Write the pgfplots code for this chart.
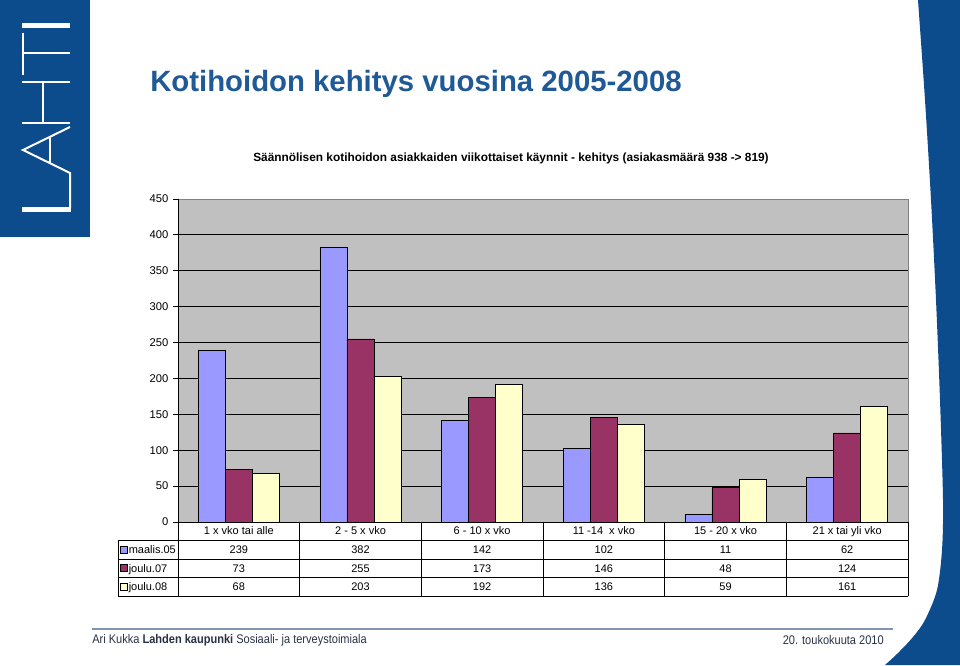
\documentclass[border=0pt]{standalone}
\usepackage{pgfplots}
\pgfplotsset{compat=1.18}
\usepackage{fontspec}
\setmainfont{Liberation Sans}
\definecolor{lahti}{RGB}{12,76,140}
\definecolor{titleblue}{RGB}{31,90,150}
\definecolor{plotgray}{RGB}{192,192,192}
\definecolor{footline}{RGB}{128,150,176}
\definecolor{foottext}{RGB}{40,50,70}
\definecolor{sA}{RGB}{153,153,255}
\definecolor{sB}{RGB}{153,51,102}
\definecolor{sC}{RGB}{255,255,204}
\begin{document}
\begin{tikzpicture}
\begin{scope}[x=0.75pt,y=0.75pt]
\useasboundingbox (0,0) rectangle (960,665);
\fill[white] (0,0) rectangle (960,665);
% left logo block
\fill[lahti] (0,428) rectangle (90,665);
\begin{scope}[white, line width=1.5pt]
\draw[line width=3.75pt] (22,639) -- (70,639);
\draw (23,632) -- (23,590);
\draw (23,612) -- (70,612);
\draw (22,583) -- (70,583);
\draw (22,542) -- (70,542);
\draw (43,583) -- (43,542);
\draw (70,538) -- (23,515) -- (70,492) -- (70,457);
\draw (50,527) -- (50,502);
\draw[line width=3.75pt] (22,455) -- (71,455);
\end{scope}
% titles
\node[anchor=base west, inner sep=0, text=titleblue, font=\fontsize{22}{26}\selectfont\bfseries] at (150,573) {Kotihoidon kehitys vuosina 2005-2008};
\node[anchor=center, inner sep=0, font=\fontsize{8.9}{11}\selectfont\bfseries] at (511,507) {Säännölisen kotihoidon asiakkaiden viikottaiset käynnit - kehitys (asiakasmäärä 938 -> 819)};
\end{scope}
\begin{axis}[
  at={(133.5pt,107.25pt)}, anchor=south west, scale only axis,
  width=547.5pt, height=242.25pt,
  xmin=0, xmax=6, ymin=0, ymax=450,
  xtick=\empty, ytick={0,50,...,450}, ytick pos=left,
  ymajorgrids, grid style={black, line width=0.6pt},
  axis background/.style={fill=plotgray},
  axis line style={gray, line width=0.6pt},
  tick align=outside, major tick length=3.75pt,
  tick style={black, line width=0.6pt},
  yticklabel style={font=\fontsize{8.4}{10}\selectfont},
  /pgf/number format/assume math mode=true,
  ybar, bar width=0.222,
  every axis plot/.append style={draw=black, line width=0.5pt},
]
\addplot[fill=sA, bar shift=-0.222] coordinates {(0.5,239) (1.5,382) (2.5,142) (3.5,102) (4.5,11) (5.5,62)};
\addplot[fill=sB, bar shift=0] coordinates {(0.5,73) (1.5,255) (2.5,173) (3.5,146) (4.5,48) (5.5,124)};
\addplot[fill=sC, bar shift=0.222] coordinates {(0.5,68) (1.5,203) (2.5,192) (3.5,136) (4.5,59) (5.5,161)};
\end{axis}
\begin{scope}[x=0.75pt,y=0.75pt]
% data table
\begin{scope}[black, line width=0.6pt]
\draw (178,466) -- (178,69);
\draw (178,143) -- (908,143);
\foreach \k in {1,...,5} {\draw ({178+121.667*\k},143) -- ({178+121.667*\k},69);}
\draw (908,143) -- (908,69);
\draw (118,125) -- (908,125);
\draw (118,106) -- (908,106);
\draw (118,88) -- (908,88);
\draw (118,69) -- (908,69);
\draw (118,125) -- (118,69);
\end{scope}
\begin{scope}[font=\fontsize{8.25}{10}\selectfont, every node/.style={anchor=base, inner sep=0}]
\foreach \lab [count=\i from 0] in {1 x vko tai alle, 2 - 5 x vko, 6 - 10 x vko, 11 -14 \ x vko, 15 - 20 x vko, 21 x tai yli vko}
  {\node at ({178+121.667*(\i+0.5)},130.5) {\lab};}
\foreach \v [count=\i from 0] in {239,382,142,102,11,62}
  {\node at ({178+121.667*(\i+0.5)},111.5) {\v};}
\foreach \v [count=\i from 0] in {73,255,173,146,48,124}
  {\node at ({178+121.667*(\i+0.5)},93) {\v};}
\foreach \v [count=\i from 0] in {68,203,192,136,59,161}
  {\node at ({178+121.667*(\i+0.5)},74.5) {\v};}
\filldraw[fill=sA, draw=black, line width=0.4pt] (120,112) rectangle (127,119);
\filldraw[fill=sB, draw=black, line width=0.4pt] (120,93.5) rectangle (127,100.5);
\filldraw[fill=sC, draw=black, line width=0.4pt] (120,75) rectangle (127,82);
\node[anchor=base west] at (128.5,111.5) {maalis.05};
\node[anchor=base west] at (128.5,93) {joulu.07};
\node[anchor=base west] at (128.5,74.5) {joulu.08};
\end{scope}
% footer
\draw[footline, line width=1.2pt] (92,36) -- (893,36);
\node[anchor=west, inner sep=0, text=foottext, font=\fontsize{9.4}{11}\selectfont] at (92,25) {\scalebox{0.88}[1]{Ari Kukka \textbf{Lahden kaupunki} Sosiaali- ja terveystoimiala}};
\node[anchor=east, inner sep=0, text=foottext, font=\fontsize{9.4}{11}\selectfont] at (884,25) {\scalebox{0.88}[1]{20. toukokuuta 2010}};
% right blue shape
\fill[lahti] (960,665) -- (918,665) -- plot[smooth] coordinates {(918,665) (925,565) (931,465) (936,365) (940,265) (943,165) (942,115) (937,75) (925,45) (913,28) (898,12) (885,0)} -- (960,0) -- cycle;
\end{scope}
\end{tikzpicture}
\end{document}
